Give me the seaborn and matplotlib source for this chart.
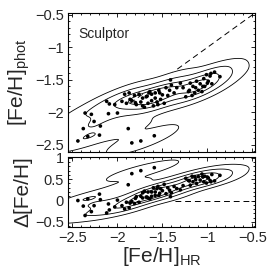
import numpy as np
import pandas as pd
import matplotlib
matplotlib.use("Agg")
import matplotlib.pyplot as plt
import seaborn as sns
from matplotlib.colors import ListedColormap
from matplotlib.ticker import AutoMinorLocator, MultipleLocator, FuncFormatter

# [Fe/H] from high-resolution spectra vs photometric estimate (Sculptor)
feh_hr = [-2.44, -2.38, -2.36, -2.33, -2.29, -2.26, -2.20, -2.19, -2.10, -2.09, -2.12, -2.00, -2.03,
          -1.88, -1.84, -1.74, -1.59,
          -1.95, -1.92, -1.90, -1.87, -1.84, -1.81, -1.79, -1.76, -1.74, -1.72,
          -1.70, -1.67, -1.66, -1.64, -1.62, -1.60, -1.58, -1.56, -1.54, -1.52,
          -1.50, -1.48, -1.46, -1.44, -1.42, -1.40, -1.37, -1.34, -1.30,
          -1.80, -1.72, -1.65, -1.55, -1.41, -1.68, -1.58, -1.53, -1.86, -1.62,
          -1.27, -1.24, -1.21, -1.19, -1.17, -1.16, -1.14, -1.12, -1.10, -1.08,
          -1.06, -1.04, -1.03, -1.01, -0.99, -0.97, -0.95, -0.92, -0.86,
          -1.13, -1.05, -1.00, -1.20, -0.96]
feh_phot = [-2.44, -2.25, -2.01, -2.37, -2.03, -2.14, -2.35, -2.21, -2.02, -1.87, -1.83, -2.01, -1.88,
            -2.25, -2.47, -2.44, -2.36,
            -1.83, -1.72, -1.86, -1.70, -1.82, -1.74, -1.88, -1.72, -1.84, -1.78,
            -1.92, -1.75, -1.86, -1.68, -1.82, -1.90, -1.70, -1.84, -1.66, -1.80,
            -1.73, -1.86, -1.62, -1.74, -1.66, -1.58, -1.70, -1.62, -1.55,
            -1.85, -1.90, -1.70, -1.88, -1.50, -1.76, -1.78, -1.70, -1.80, -1.72,
            -1.62, -1.76, -1.68, -1.55, -1.74, -1.60, -1.70, -1.52, -1.66, -1.56,
            -1.68, -1.48, -1.60, -1.42, -1.52, -1.44, -1.56, -1.38, -1.45,
            -1.62, -1.60, -1.55, -1.66, -1.40]

df = pd.DataFrame({"hr": feh_hr, "phot": feh_phot})
df["delta"] = df["hr"] - df["phot"]

sns.set_style("ticks")
plt.rcParams["font.family"] = ["Liberation Sans", "DejaVu Sans"]
plt.rcParams["mathtext.fontset"] = "custom"
plt.rcParams["mathtext.rm"] = "Liberation Sans"
plt.rcParams["mathtext.it"] = "Liberation Sans:italic"

levels = [0.015, 0.2, 0.45, 0.7]
bw = 0.85
white = ListedColormap(["white"])

fig = plt.figure(figsize=(2.73, 2.75), dpi=100)
ax1 = fig.add_axes([68 / 273, 123 / 275, 187 / 273, 139 / 275])
ax2 = fig.add_axes([68 / 273, 48 / 275, 187 / 273, 70 / 275])

xlim = (-2.55, -0.47)

# top panel
ax1.plot([-3, 0], [-3, 0], ls=(0, (6, 4)), color="k", lw=0.7, zorder=0.5)
sns.kdeplot(x=df["hr"], y=df["phot"], ax=ax1, levels=levels, bw_adjust=bw,
            fill=True, cmap=white, zorder=1)
sns.kdeplot(x=df["hr"], y=df["phot"], ax=ax1, levels=levels, bw_adjust=bw,
            color="k", linewidths=0.6, zorder=2)
sns.scatterplot(x=df["hr"], y=df["phot"], ax=ax1, color="k", s=7,
                edgecolor="none", zorder=3)
ax1.set_xlim(xlim)
ax1.set_ylim(-2.61, -0.47)
ax1.set_xlabel("")
ax1.set_ylabel("[Fe/H]$_{\\rm phot}$", fontsize=15)
ax1.text(0.053, 0.82, "Sculptor", transform=ax1.transAxes, fontsize=10)

# bottom panel
ax2.axhline(0, ls=(0, (6, 4)), color="k", lw=0.7, zorder=0.5)
sns.kdeplot(x=df["hr"], y=df["delta"], ax=ax2, levels=levels, bw_adjust=bw,
            fill=True, cmap=white, zorder=1)
sns.kdeplot(x=df["hr"], y=df["delta"], ax=ax2, levels=levels, bw_adjust=bw,
            color="k", linewidths=0.6, zorder=2)
sns.scatterplot(x=df["hr"], y=df["delta"], ax=ax2, color="k", s=7,
                edgecolor="none", zorder=3)
ax2.set_xlim(xlim)
ax2.set_ylim(-0.62, 1.02)
ax2.set_xlabel("[Fe/H]$_{\\rm HR}$", fontsize=15, labelpad=0)
ax2.set_ylabel("Δ[Fe/H]", fontsize=15)

fmt = FuncFormatter(lambda v, p: f"{v:g}".replace("-", "\u2212"))
for ax in (ax1, ax2):
    ax.xaxis.set_major_locator(MultipleLocator(0.5))
    ax.yaxis.set_major_locator(MultipleLocator(0.5))
    ax.xaxis.set_minor_locator(AutoMinorLocator(5))
    ax.yaxis.set_minor_locator(AutoMinorLocator(5))
    ax.xaxis.set_major_formatter(fmt)
    ax.yaxis.set_major_formatter(fmt)
    ax.tick_params(which="both", direction="in", top=True, right=True,
                   labelsize=10.5, width=0.6, pad=3, color="k")
    ax.tick_params(which="major", length=3)
    ax.tick_params(which="minor", length=1.5)
    for sp in ax.spines.values():
        sp.set_linewidth(0.8)
        sp.set_color("k")
    ax.yaxis.set_label_coords(-0.19, 0.5)
ax1.tick_params(labelbottom=False)

fig.savefig("out.png", dpi=100)
